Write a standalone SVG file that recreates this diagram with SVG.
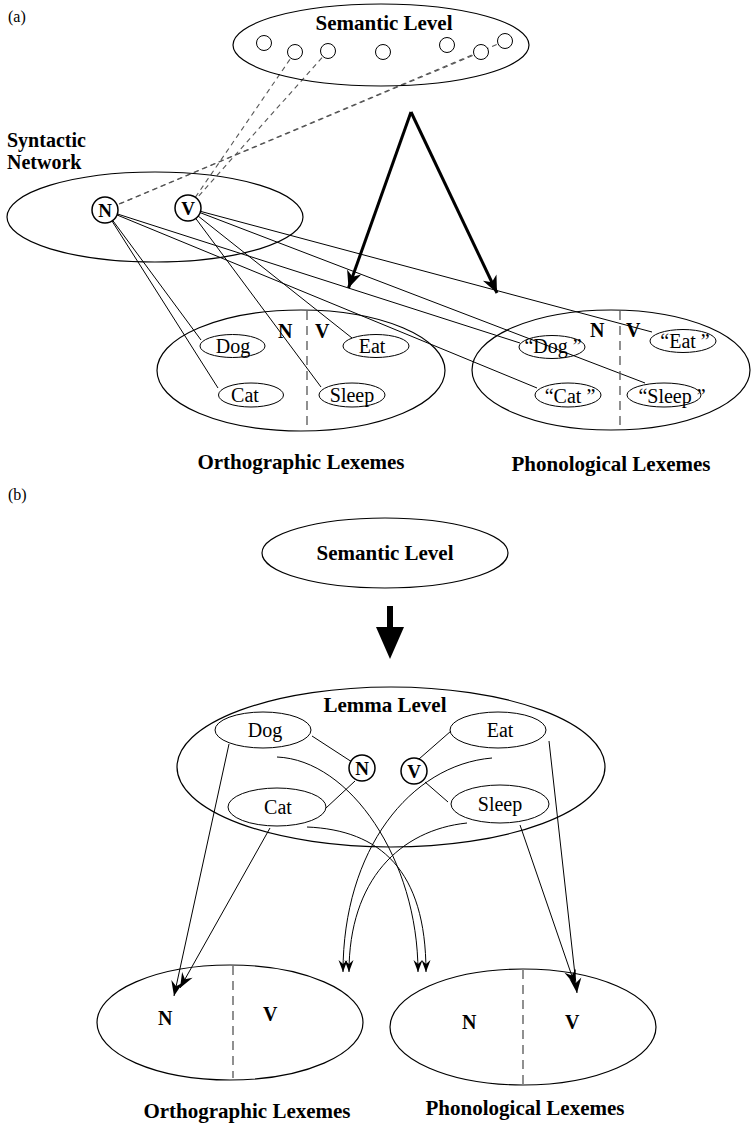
<svg xmlns="http://www.w3.org/2000/svg" width="751" height="1125" viewBox="0 0 751 1125">
<style>
text{font-family:"Liberation Serif","Times New Roman",serif;fill:#000}
.lbl{font-weight:bold;font-size:21px;text-anchor:middle}
.pl{font-weight:bold;font-size:20px}
.w{font-size:20px;text-anchor:middle}
.nv{font-weight:bold;font-size:20px}
.nd{font-weight:bold;font-size:19px;text-anchor:middle}
.big{fill:none;stroke:#000;stroke-width:1.2}
.sm{fill:none;stroke:#000;stroke-width:1}
.node{fill:#fff;stroke:#000;stroke-width:1.5}
.sc{fill:#fff;stroke:#000;stroke-width:1}
.ln{stroke:#000;stroke-width:1;fill:none}
.dl{stroke:#555;stroke-width:1.1;stroke-dasharray:5 4;fill:none}
.div{stroke:#555;stroke-width:1.3;stroke-dasharray:9 6;fill:none}
.thick{stroke:#000;stroke-width:3;fill:none}
</style>
<defs>
<marker id="bigHead" markerUnits="userSpaceOnUse" viewBox="-19 -9 20 18" markerWidth="20" markerHeight="18" refX="0" refY="0" orient="auto"><path d="M0,0 L-17,-7.5 L-12,0 L-17,7.5 Z" fill="#000"/></marker>
<marker id="head" markerUnits="userSpaceOnUse" viewBox="-16 -7 17 14" markerWidth="17" markerHeight="14" refX="0" refY="0" orient="auto"><path d="M0,0 L-15,-6 L-10,0 L-15,6 Z" fill="#000"/></marker>
<marker id="sHead" markerUnits="userSpaceOnUse" viewBox="-13 -6 14 12" markerWidth="14" markerHeight="12" refX="0" refY="0" orient="auto"><path d="M0,0 L-12,-4.5 L-8,0 L-12,4.5 Z" fill="#000"/></marker>
</defs>

<text x="8" y="22" style="font-size:16px">(a)</text>

<g id="connectors-a">
<line class="dl" x1="295" y1="52" x2="188" y2="208"/>
<line class="dl" x1="328" y1="51" x2="188" y2="208"/>
<line class="dl" x1="481" y1="52" x2="105" y2="210"/>
<line class="dl" x1="505" y1="41" x2="105" y2="210"/>
<line class="ln" x1="105" y1="210" x2="201" y2="340"/>
<line class="ln" x1="105" y1="210" x2="218" y2="388"/>
<line class="ln" x1="105" y1="210" x2="520" y2="343"/>
<line class="ln" x1="105" y1="210" x2="537" y2="388"/>
<line class="ln" x1="188" y1="208" x2="352" y2="338"/>
<line class="ln" x1="188" y1="208" x2="321" y2="387"/>
<line class="ln" x1="188" y1="208" x2="652" y2="332"/>
<line class="ln" x1="188" y1="208" x2="645" y2="383"/>
<line class="thick" x1="411" y1="112" x2="348.5" y2="288" marker-end="url(#bigHead)"/>
<line class="thick" x1="411" y1="112" x2="497" y2="293" marker-end="url(#bigHead)"/>
</g>

<g id="semantic-a">
<ellipse class="big" cx="381" cy="45" rx="148" ry="41"/>
<text class="lbl" x="384" y="30">Semantic Level</text>
<circle class="sc" cx="264" cy="43" r="7.5"/>
<circle class="sc" cx="295" cy="52" r="7.5"/>
<circle class="sc" cx="328" cy="51" r="7.5"/>
<circle class="sc" cx="383" cy="52" r="7.5"/>
<circle class="sc" cx="447" cy="45" r="7.5"/>
<circle class="sc" cx="481" cy="52" r="7.5"/>
<circle class="sc" cx="505" cy="41" r="7.5"/>
</g>

<g id="syntactic-a">
<text class="pl" x="7" y="147">Syntactic</text>
<text class="pl" x="7" y="169">Network</text>
<ellipse class="big" cx="155" cy="217" rx="148" ry="45"/>
</g>
<g id="node-N-a"><circle class="node" cx="105" cy="210" r="13"/><text class="nd" x="105" y="217">N</text></g>
<g id="node-V-a"><circle class="node" cx="188" cy="208" r="13"/><text class="nd" x="188" y="215">V</text></g>

<g id="ortho-a">
<ellipse class="big" cx="301" cy="370.5" rx="144" ry="60.5"/>
<line class="div" x1="307" y1="311" x2="307" y2="430"/>
<text class="nv" x="278" y="338">N</text>
<text class="nv" x="315" y="338">V</text>
<ellipse class="sm" cx="232.5" cy="346" rx="32.5" ry="11.5"/><text class="w" x="233" y="353">Dog</text>
<ellipse class="sm" cx="251" cy="395" rx="32.5" ry="12"/><text class="w" x="245" y="402">Cat</text>
<ellipse class="sm" cx="376" cy="346" rx="33" ry="11.5"/><text class="w" x="372" y="353">Eat</text>
<ellipse class="sm" cx="352" cy="395" rx="33" ry="12"/><text class="w" x="352" y="402">Sleep</text>
<text class="lbl" x="301" y="469">Orthographic Lexemes</text>
</g>

<g id="phono-a">
<ellipse class="big" cx="611" cy="370" rx="139" ry="60"/>
<line class="div" x1="620" y1="311" x2="620" y2="429"/>
<text class="nv" x="590" y="337">N</text>
<text class="nv" x="626" y="337">V</text>
<ellipse class="sm" cx="552" cy="347" rx="33" ry="11.5"/><text class="w" x="553" y="353">“Dog ”</text>
<ellipse class="sm" cx="568" cy="395" rx="33" ry="12"/><text class="w" x="570" y="403">“Cat ”</text>
<ellipse class="sm" cx="683" cy="341" rx="33" ry="11.5"/><text class="w" x="685" y="348">“Eat ”</text>
<ellipse class="sm" cx="664" cy="395" rx="37" ry="12"/><text class="w" x="672" y="403">“Sleep ”</text>
<text class="lbl" x="611" y="471">Phonological Lexemes</text>
</g>

<text x="8" y="500" style="font-size:16px">(b)</text>

<g id="semantic-b">
<ellipse class="big" cx="385" cy="553" rx="123" ry="35"/>
<text class="lbl" x="385" y="560">Semantic Level</text>
</g>
<path id="bigArrow-b" d="M387,606 L393,606 L393,627 L404,627 L390,659 L376,627 L387,627 Z" fill="#000"/>

<g id="lemma-b">
<ellipse class="big" cx="391" cy="767" rx="214" ry="80"/>
<text class="lbl" x="385" y="712">Lemma Level</text>
</g>
<g id="lemma-dog"><ellipse class="sm" cx="263" cy="730" rx="48" ry="18"/><text class="w" x="265" y="737">Dog</text></g>
<g id="lemma-cat"><ellipse class="sm" cx="277" cy="807" rx="49" ry="19"/><text class="w" x="278" y="814">Cat</text></g>
<g id="lemma-eat"><ellipse class="sm" cx="498" cy="730" rx="48" ry="18"/><text class="w" x="500" y="737">Eat</text></g>
<g id="lemma-sleep"><ellipse class="sm" cx="500" cy="804" rx="49" ry="19"/><text class="w" x="500" y="811">Sleep</text></g>

<g id="connectors-b">
<line class="ln" x1="312" y1="736" x2="352" y2="762"/>
<line class="ln" x1="355" y1="781" x2="326" y2="808"/>
<line class="ln" x1="419" y1="759" x2="451" y2="731"/>
<line class="ln" x1="425" y1="782" x2="448" y2="802"/>
<line class="ln" x1="229" y1="744" x2="174" y2="996" marker-end="url(#head)"/>
<line class="ln" x1="270" y1="828" x2="180" y2="988" marker-end="url(#head)"/>
<line class="ln" x1="549" y1="741" x2="577" y2="993" marker-end="url(#head)"/>
<line class="ln" x1="520" y1="825" x2="575" y2="985" marker-end="url(#head)"/>
<path class="ln" d="M277,757 C350,760 418,860 418,972" marker-end="url(#sHead)"/>
<path class="ln" d="M307,827 C380,830 426,870 426,972" marker-end="url(#sHead)"/>
<path class="ln" d="M492,758 C410,765 343,850 343,972" marker-end="url(#sHead)"/>
<path class="ln" d="M467,823 C400,830 349,880 349,972" marker-end="url(#sHead)"/>
</g>
<g id="node-N-b"><circle class="node" cx="362" cy="768" r="13"/><text class="nd" x="362" y="775">N</text></g>
<g id="node-V-b"><circle class="node" cx="414" cy="771" r="13"/><text class="nd" x="414" y="778">V</text></g>

<g id="ortho-b">
<ellipse class="big" cx="230" cy="1022.5" rx="133" ry="57.5"/>
<line class="div" x1="233" y1="966" x2="233" y2="1078"/>
<text class="nv" x="158" y="1025">N</text>
<text class="nv" x="263" y="1021">V</text>
<text class="lbl" x="247" y="1118">Orthographic Lexemes</text>
</g>
<g id="phono-b">
<ellipse class="big" cx="523" cy="1027" rx="133" ry="58"/>
<line class="div" x1="523" y1="970" x2="523" y2="1084"/>
<text class="nv" x="462" y="1029">N</text>
<text class="nv" x="565" y="1029">V</text>
<text class="lbl" x="525" y="1115">Phonological Lexemes</text>
</g>
</svg>
